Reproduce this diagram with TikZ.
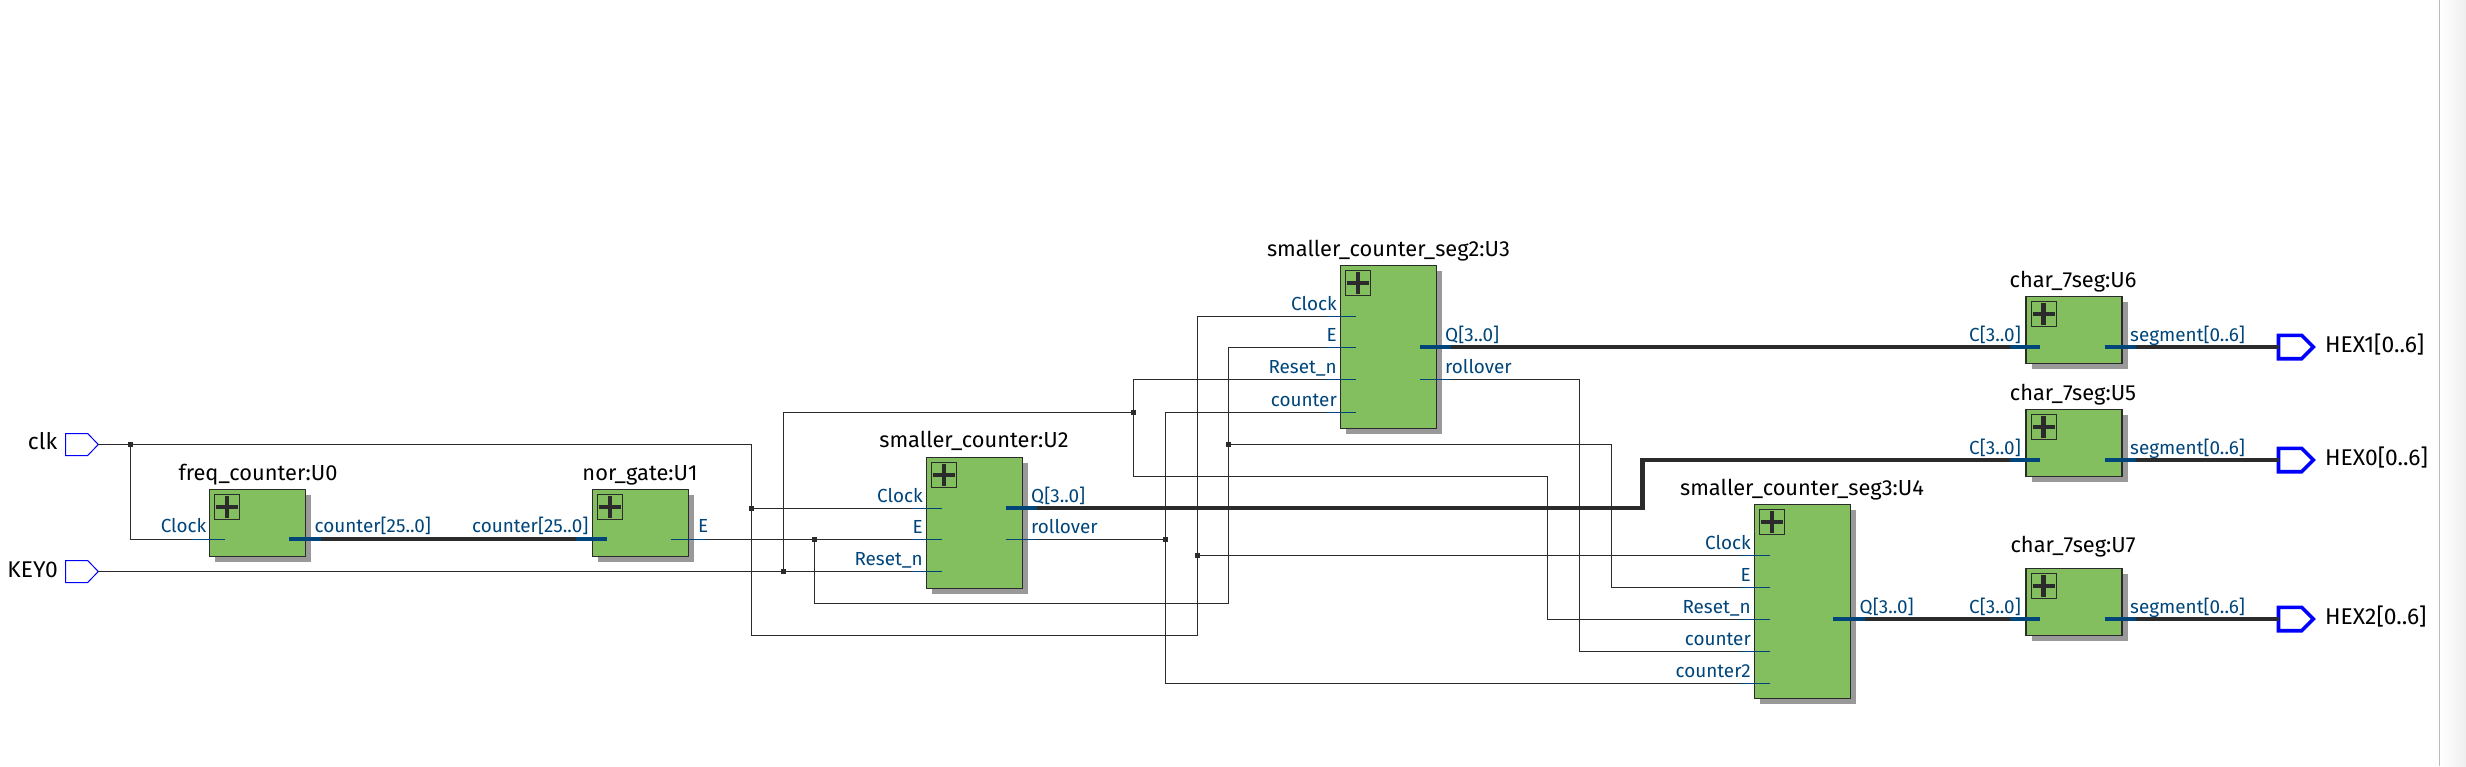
\documentclass[tikz,border=0pt]{standalone}
\usepackage{fontspec}
\setmainfont{Fira Sans}
\usetikzlibrary{calc,shadings}
\definecolor{boxgreen}{HTML}{84BF5F}
\definecolor{shadowgray}{HTML}{999999}
\definecolor{wirecol}{HTML}{2B2B2B}
\definecolor{pinblue}{HTML}{00457A}
\definecolor{portblue}{HTML}{0000FF}
\definecolor{edgegray}{HTML}{BBBBBB}
\definecolor{sidegray}{HTML}{EEEEEE}
\tikzset{
  ublock/.style={draw=wirecol,line width=1.3pt,fill=boxgreen,rectangle,inner sep=0pt,outer sep=0pt,anchor=north west},
  plusbox/.style={draw=wirecol,line width=1pt,fill=boxgreen,rectangle,inner sep=0pt,outer sep=0pt,anchor=north west,minimum width=25pt,minimum height=25pt},
  pluspen/.style={draw=wirecol,line width=4.2pt},
  shadowfill/.style={fill=shadowgray,draw=none},
  wire/.style={draw=wirecol,line width=1.3pt},
  bus/.style={draw=wirecol,line width=4.2pt,line cap=butt,line join=miter},
  pinstub/.style={draw=pinblue,line width=1.3pt},
  pinbus/.style={draw=pinblue,line width=4.2pt},
  inport/.style={draw=portblue,line width=1pt,line join=miter},
  outport/.style={draw=portblue,line width=3.6pt,line join=miter},
  title/.style={anchor=base,inner sep=0pt,text=black,font=\fontsize{21.8}{26}\selectfont},
  pinlabel/.style={inner sep=0pt,text=pinblue,font=\fontsize{18.9}{23}\selectfont},
  inlabel/.style={pinlabel,anchor=base east},
  outlabel/.style={pinlabel,anchor=base west},
  portlabel/.style={inner sep=0pt,text=black,font=\fontsize{22.8}{27}\selectfont},
  junction/.style={fill=wirecol,draw=none}
}
% name, left, top, width, height
\newcommand{\ublockat}[5]{%
  \fill[shadowfill] (#2+5.5,#3+5.5) rectangle ++(#4,#5);
  \node[ublock,minimum width=#4pt,minimum height=#5pt] (#1) at (#2,#3) {};
  \node[plusbox] (#1plus) at (#2+5,#3+5) {};
  \draw[pluspen] ($(#1plus.center)+(-11,0)$) -- ($(#1plus.center)+(11,0)$);
  \draw[pluspen] ($(#1plus.center)+(0,-11)$) -- ($(#1plus.center)+(0,11)$);
}
\newcommand{\dotat}[1]{\fill[junction] ($(#1)+(-2.4,-2.4)$) rectangle ($(#1)+(2.4,2.4)$);}
\begin{document}
\begin{tikzpicture}[x=1pt,y=-1pt]
\useasboundingbox (0,0) rectangle (2466,766);
\shade[left color=white,right color=sidegray] (2440,0) rectangle (2466,766);
\draw[edgegray,line width=1.5pt] (2439.5,0) -- (2439.5,766);

% blocks
\ublockat{U0}{209.5}{489.5}{96}{67}
\ublockat{U1}{592.5}{489.5}{96}{67}
\ublockat{U2}{926.5}{457.5}{96}{131}
\ublockat{U3}{1340.5}{265.5}{96}{163}
\ublockat{U4}{1754.5}{504.5}{96}{194}
\ublockat{U6}{2026}{296.5}{96}{67}
\ublockat{U5}{2026}{409.5}{96}{67}
\ublockat{U7}{2026}{568.5}{96}{67}

% titles
\node[title] (tU0) at (258,480) {freq\_counter:U0};
\node[title] (tU1) at (640,480) {nor\_gate:U1};
\node[title] (tU2) at (974,447.3) {smaller\_counter:U2};
\node[title] (tU3) at (1388.5,256.3) {smaller\_counter\_seg2:U3};
\node[title] (tU4) at (1802,495) {smaller\_counter\_seg3:U4};
\node[title] (tU6) at (2073,287.3) {char\_7seg:U6};
\node[title] (tU5) at (2073,400) {char\_7seg:U5};
\node[title] (tU7) at (2073,552.3) {char\_7seg:U7};

% ports
\coordinate (clkP) at (98.3,444.5);
\coordinate (keyP) at (98.3,571.5);
\draw[inport] (65.5,433.5) -- (87.7,433.5) -- (clkP) -- (87.7,455.5) -- (65.5,455.5) -- cycle;
\draw[inport] (65.5,560.5) -- (87.7,560.5) -- (keyP) -- (87.7,582.5) -- (65.5,582.5) -- cycle;
\node[portlabel,anchor=base east] (clkL) at (57.4,449) {clk};
\node[portlabel,anchor=base east] (keyL) at (58,577) {KEY0};

\coordinate (hex1P) at (2278.5,347);
\coordinate (hex0P) at (2278.5,460);
\coordinate (hex2P) at (2278.5,619);
\foreach \n/\cy in {hex1P/347,hex0P/460,hex2P/619}{
  \draw[outport] (2278.5,\cy-11.7) -- (2301.7,\cy-11.7) -- (2313.3,\cy) -- (2301.7,\cy+11.7) -- (2278.5,\cy+11.7) -- cycle;
}
\node[portlabel,anchor=base west] (hex1L) at (2325,352.7) {HEX1[0..6]};
\node[portlabel,anchor=base west] (hex0L) at (2325,465.7) {HEX0[0..6]};
\node[portlabel,anchor=base west] (hex2L) at (2325,624.7) {HEX2[0..6]};

% pin end points
\coordinate (U0clk) at (225,539.3);
\coordinate (U1e) at (671,539.3);
\coordinate (U2clk) at (942,508.3);
\coordinate (U2e) at (942,539.3);
\coordinate (U2rst) at (942,571.5);
\coordinate (U2roll) at (1006,539.3);
\coordinate (U3clk) at (1355.5,316.3);
\coordinate (U3e) at (1355.5,347.3);
\coordinate (U3rst) at (1355.5,379.3);
\coordinate (U3cnt) at (1355.5,412.3);
\coordinate (U3roll) at (1420.4,379.3);
\coordinate (U4clk) at (1769.6,555.3);
\coordinate (U4e) at (1769.6,587.3);
\coordinate (U4rst) at (1769.6,619.3);
\coordinate (U4cnt) at (1769.6,651.3);
\coordinate (U4cnt2) at (1769.6,683.3);

% junctions
\coordinate (jclk) at (130.4,444.5);
\coordinate (jU2clk) at (751.5,508.3);
\coordinate (jU4clk) at (1197.5,555.3);
\coordinate (jE) at (814.5,539.3);
\coordinate (jU4e) at (1228.5,444.3);
\coordinate (jrst) at (783.5,571.5);
\coordinate (jrst2) at (1133.5,412.3);
\coordinate (jroll) at (1165.5,539.3);

% wires
\draw[wire] (clkP) -- (jclk) -- (751.5,444.5) |- (U2clk);
\draw[wire] (jclk) |- (U0clk);
\draw[wire] (jU2clk) -- (751.5,635.3) -- (1197.5,635.3) -- (jU4clk) -- (1197.5,316.3) -- (U3clk);
\draw[wire] (jU4clk) -- (U4clk);
\draw[wire] (U1e) -- (U2e);
\draw[wire] (jE) -- (814.5,603.3) -- (1228.5,603.3) -- (jU4e) -- (1228.5,347.3) -- (U3e);
\draw[wire] (jU4e) -- (1611.5,444.3) |- (U4e);
\draw[wire] (keyP) -- (U2rst);
\draw[wire] (jrst) -- (783.5,412.3) -- (jrst2) -- (1133.5,379.3) -- (U3rst);
\draw[wire] (jrst2) -- (1133.5,476.3) -- (1547.3,476.3) |- (U4rst);
\draw[wire] (U2roll) -- (jroll) -- (1165.5,412.3) -- (U3cnt);
\draw[wire] (jroll) -- (1165.5,683.3) -- (U4cnt2);
\draw[wire] (U3roll) -- (1579.4,379.3) |- (U4cnt);

% buses
\coordinate (U0cnt) at (288.8,538.7);
\coordinate (U1cnt) at (607,538.7);
\coordinate (U2q) at (1006,508);
\coordinate (U3q) at (1420.4,347);
\coordinate (U4q) at (1833,619);
\coordinate (U6c) at (2039.7,347);
\coordinate (U5c) at (2039.7,460);
\coordinate (U7c) at (2039.7,619);
\coordinate (U6s) at (2104.5,347);
\coordinate (U5s) at (2104.5,460);
\coordinate (U7s) at (2104.5,619);
\draw[bus] (U0cnt) -- (U1cnt);
\draw[bus] (U2q) -- (1642.5,508) -- (1642.5,460) -- (U5c);
\draw[bus] (U3q) -- (U6c);
\draw[bus] (U4q) -- (U7c);
\draw[bus] (U6s) -- (hex1P);
\draw[bus] (U5s) -- (hex0P);
\draw[bus] (U7s) -- (hex2P);

% coloured pin stubs
\draw[pinstub] (192,539.3) -- (U0clk);
\draw[pinstub] (U1e) -- (707,539.3);
\draw[pinstub] (911,508.3) -- (U2clk);
\draw[pinstub] (911,539.3) -- (U2e);
\draw[pinstub] (911,571.5) -- (U2rst);
\draw[pinstub] (U2roll) -- (1037,539.3);
\foreach \p in {U3clk,U3e,U3rst,U3cnt}{\draw[pinstub] ($(\p)+(-31,0)$) -- (\p);}
\draw[pinstub] (U3roll) -- (1451,379.3);
\foreach \p in {U4clk,U4e,U4rst,U4cnt,U4cnt2}{\draw[pinstub] ($(\p)+(-31,0)$) -- (\p);}
\draw[pinbus] (U0cnt) -- (321.4,538.7);
\draw[pinbus] (575.8,538.7) -- (U1cnt);
\draw[pinbus] (U2q) -- (1037,508);
\draw[pinbus] (U3q) -- (1451,347);
\draw[pinbus] (U4q) -- (1865,619);
\foreach \p in {U6c,U5c,U7c}{\draw[pinbus] ($(\p)+(-30,0)$) -- (\p);}
\foreach \p in {U6s,U5s,U7s}{\draw[pinbus] (\p) -- ($(\p)+(31.5,0)$);}

% junction dots
\foreach \j in {jclk,jU2clk,jU4clk,jE,jU4e,jrst,jrst2,jroll}{\dotat{\j}}

% pin labels
\node[inlabel] (lU0a) at (206.6,532.7) {Clock};
\node[outlabel] (lU0b) at (314.5,532.7) {counter[25..0]};
\node[inlabel] (lU1a) at (588.6,532.7) {counter[25..0]};
\node[outlabel] (lU1b) at (698,532.7) {E};
\node[inlabel] (lU2a) at (923,502) {Clock};
\node[inlabel] (lU2b) at (923,533) {E};
\node[inlabel] (lU2c) at (923,565) {Reset\_n};
\node[outlabel] (lU2d) at (1031,502.5) {Q[3..0]};
\node[outlabel] (lU2e) at (1031,533) {rollover};
\node[inlabel] (lU3a) at (1337,310) {Clock};
\node[inlabel] (lU3b) at (1337,341) {E};
\node[inlabel] (lU3c) at (1337,373) {Reset\_n};
\node[inlabel] (lU3d) at (1337,406) {counter};
\node[outlabel] (lU3e) at (1445,341.5) {Q[3..0]};
\node[outlabel] (lU3f) at (1445,373) {rollover};
\node[inlabel] (lU4a) at (1751,549) {Clock};
\node[inlabel] (lU4b) at (1751,581) {E};
\node[inlabel] (lU4c) at (1751,613) {Reset\_n};
\node[inlabel] (lU4d) at (1751,645) {counter};
\node[inlabel] (lU4e) at (1751,677) {counter2};
\node[outlabel] (lU4f) at (1859.5,613) {Q[3..0]};
\node[inlabel] (lU6a) at (2021,341) {C[3..0]};
\node[outlabel] (lU6b) at (2130,341) {segment[0..6]};
\node[inlabel] (lU5a) at (2021,454) {C[3..0]};
\node[outlabel] (lU5b) at (2130,454) {segment[0..6]};
\node[inlabel] (lU7a) at (2021,613) {C[3..0]};
\node[outlabel] (lU7b) at (2130,613) {segment[0..6]};
\end{tikzpicture}
\end{document}
